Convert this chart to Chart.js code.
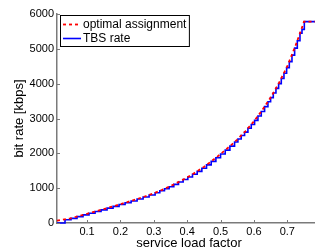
<!DOCTYPE html>
<html>
<head>
<meta charset="utf-8">
<script src="https://cdn.jsdelivr.net/npm/chart.js@4.4.1/dist/chart.umd.min.js"></script>
<style>
  html, body { margin: 0; padding: 0; background: #fff; }
  canvas { display: block; }
</style>
</head>
<body>
<canvas id="rateChart" width="315" height="248"></canvas>
<script>
// optimal assignment (smooth curve)
const optimalLoad = [0.01, 0.025, 0.05, 0.075, 0.1, 0.125, 0.15, 0.175, 0.2, 0.225, 0.25, 0.275,
  0.3, 0.325, 0.35, 0.375, 0.4, 0.425, 0.45, 0.475, 0.5, 0.525, 0.55, 0.575, 0.6, 0.625,
  0.65, 0.675, 0.7, 0.725, 0.74, 0.75, 0.783];
const optimalRate = [65, 90, 130, 198, 265, 332, 400, 470, 540, 612, 688, 768,
  852, 952, 1060, 1180, 1310, 1452, 1610, 1790, 1980, 2180, 2395, 2640, 2920, 3240,
  3600, 4020, 4500, 5100, 5500, 5780, 5780];

// TBS rate (staircase, value held until next load point)
const tbsLoad = [0.01, 0.034, 0.052, 0.07, 0.088, 0.106, 0.124, 0.142, 0.16, 0.178, 0.196, 0.214,
  0.232, 0.25, 0.268, 0.286, 0.304, 0.318, 0.332, 0.346, 0.36, 0.374, 0.388, 0.402, 0.416,
  0.43, 0.444, 0.458, 0.472, 0.486, 0.5, 0.514, 0.528, 0.542, 0.552, 0.562, 0.572, 0.582,
  0.592, 0.602, 0.612, 0.622, 0.632, 0.642, 0.65, 0.658, 0.666, 0.674, 0.682, 0.69, 0.698,
  0.706, 0.714, 0.722, 0.73, 0.738, 0.744, 0.751, 0.783];
const tbsRate = [0, 95, 134, 184, 233, 281, 330, 378, 428, 478, 529, 580,
  633, 688, 745, 805, 868, 924, 982, 1042, 1108, 1175, 1248, 1320, 1400,
  1482, 1572, 1668, 1768, 1872, 1980, 2092, 2206, 2326, 2412, 2510, 2610, 2718,
  2826, 2945, 3070, 3200, 3340, 3482, 3600, 3730, 3866, 4000, 4150, 4300, 4460,
  4630, 4820, 5020, 5230, 5450, 5560, 5780, 5780];

const xTicks = [0.1, 0.2, 0.3, 0.4, 0.5, 0.6, 0.7];
const yTicks = [0, 1000, 2000, 3000, 4000, 5000, 6000];
const seriesNames = ['optimal assignment', 'TBS rate'];

const FONT = '"Liberation Sans", Arial, Helvetica, sans-serif';
const AXIS_GREY = '#7a7a7a';

// inward tick marks, axis titles and the boxed legend (Matlab look)
const matlabDecor = {
  id: 'matlabDecor',
  afterDraw(chart) {
    const { ctx, chartArea: a, scales: { x, y } } = chart;
    ctx.save();
    ctx.strokeStyle = AXIS_GREY;
    ctx.lineWidth = 1;
    ctx.beginPath();
    xTicks.forEach(v => {
      const px = Math.round(x.getPixelForValue(v)) + 0.5;
      ctx.moveTo(px, a.bottom);
      ctx.lineTo(px, a.bottom - 3);
    });
    yTicks.forEach(v => {
      const py = Math.round(y.getPixelForValue(v)) + 0.5;
      ctx.moveTo(a.left, py);
      ctx.lineTo(a.left + 3, py);
    });
    ctx.stroke();

    // axis titles
    ctx.fillStyle = '#000';
    ctx.font = '13px ' + FONT;
    ctx.textAlign = 'center';
    ctx.textBaseline = 'alphabetic';
    ctx.fillText('service load factor', 189, 246.5);
    ctx.save();
    ctx.translate(22.5, 118.5);
    ctx.rotate(-Math.PI / 2);
    ctx.fillText('bit rate [kbps]', 0, 0);
    ctx.restore();

    // legend
    ctx.font = '12px ' + FONT;
    const textX = 83;
    const w = Math.max(...seriesNames.map(s => ctx.measureText(s).width));
    const bx = 60.5, by = 15.5, bw = textX + w + 3 - bx, bh = 31;
    ctx.fillStyle = '#fff';
    ctx.fillRect(bx, by, bw, bh);
    ctx.strokeStyle = '#000';
    ctx.lineWidth = 1;
    ctx.strokeRect(bx, by, bw, bh);
    const rows = [24.5, 38.5];
    chart.data.datasets.forEach((ds, i) => {
      ctx.strokeStyle = ds.borderColor;
      ctx.lineWidth = ds.borderWidth;
      ctx.setLineDash(ds.borderDash || []);
      ctx.beginPath();
      ctx.moveTo(63, rows[i]);
      ctx.lineTo(81, rows[i]);
      ctx.stroke();
      ctx.setLineDash([]);
      ctx.fillStyle = '#000';
      ctx.textAlign = 'left';
      ctx.textBaseline = 'middle';
      ctx.fillText(ds.label, textX, rows[i] + 0.5);
    });
    ctx.restore();
  }
};

const ctx = document.getElementById('rateChart').getContext('2d');
const rateChart = new Chart(ctx, {
  type: 'line',
  data: {
    datasets: [{
      label: seriesNames[0],
      data: optimalLoad.map((v, i) => ({ x: v, y: optimalRate[i] })),
      borderColor: '#ff0000',
      borderWidth: 1.8,
      borderDash: [3, 3],
      pointRadius: 0,
      fill: false,
      clip: false
    }, {
      label: seriesNames[1],
      data: tbsLoad.map((v, i) => ({ x: v, y: tbsRate[i] })),
      borderColor: '#0000ff',
      borderWidth: 1.6,
      stepped: true,
      pointRadius: 0,
      fill: false,
      clip: false
    }]
  },
  options: {
    responsive: false,
    animation: false,
    devicePixelRatio: 1,
    layout: { padding: { top: 14, right: 0, left: 0, bottom: 0 } },
    plugins: {
      legend: { display: false },
      tooltip: { enabled: false }
    },
    scales: {
      x: {
        type: 'linear',
        min: 0.01,
        max: 0.783,
        afterBuildTicks: s => { s.ticks = xTicks.map(v => ({ value: v })); },
        afterFit: s => { s.height = 25; },
        grid: { display: false, drawTicks: false },
        border: { display: true, color: AXIS_GREY, width: 1.5 },
        ticks: {
          autoSkip: false,
          maxRotation: 0,
          padding: 2,
          color: '#000',
          font: { family: FONT, size: 11 },
          callback: v => v.toFixed(1)
        }
      },
      y: {
        type: 'linear',
        min: 0,
        max: 6000,
        afterBuildTicks: s => { s.ticks = yTicks.map(v => ({ value: v })); },
        afterFit: s => { s.width = 57; },
        grid: { display: false, drawTicks: false },
        border: { display: true, color: AXIS_GREY, width: 1.5 },
        ticks: {
          autoSkip: false,
          padding: 3,
          color: '#000',
          font: { family: FONT, size: 11 },
          callback: v => String(v)
        }
      }
    }
  },
  plugins: [matlabDecor]
});
</script>
</body>
</html>
